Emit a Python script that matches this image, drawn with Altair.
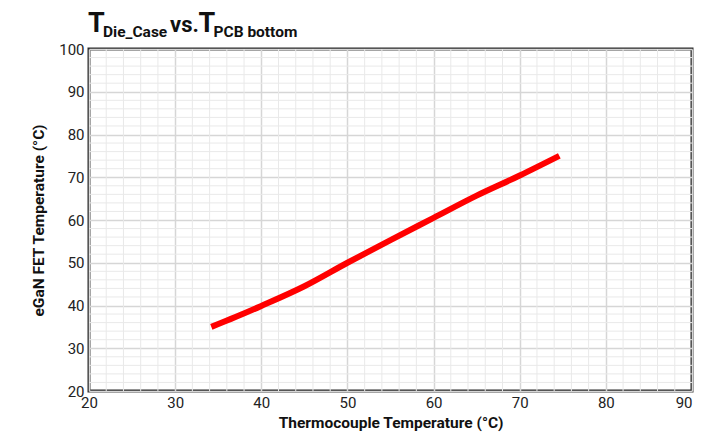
import altair as alt
import pandas as pd

# data
thermo = [34.2, 37.0, 40.0, 45.0, 50.0, 55.0, 60.0, 65.0, 70.0, 74.6]
egan = [35.0, 37.3, 39.9, 44.5, 50.0, 55.3, 60.5, 65.7, 70.4, 75.0]

x_ticks = [20, 30, 40, 50, 60, 70, 80, 90]
y_ticks = [20, 30, 40, 50, 60, 70, 80, 90, 100]
x_minor = [v for v in range(22, 90, 2) if v % 10]
y_minor = [v for v in range(22, 100, 2) if v % 10]

FONT = "Roboto, sans-serif"
W, H = 603, 342

line_df = pd.DataFrame({"x": thermo, "y": egan})
xs = alt.Scale(domain=[20, 90], nice=False, zero=False)
ys = alt.Scale(domain=[20, 100], nice=False, zero=False)

minor_x = alt.Chart(pd.DataFrame({"v": x_minor})).mark_rule(
    color="#e9e9e9", strokeWidth=1
).encode(x=alt.X("v:Q", scale=xs))
minor_y = alt.Chart(pd.DataFrame({"v": y_minor})).mark_rule(
    color="#e9e9e9", strokeWidth=1
).encode(y=alt.Y("v:Q", scale=ys))

line = alt.Chart(line_df).mark_line(
    color="#ff0000", strokeWidth=6, interpolate="monotone", strokeCap="butt"
).encode(
    x=alt.X("x:Q", scale=xs, title="Thermocouple Temperature (°C)",
            axis=alt.Axis(values=x_ticks, grid=True, gridColor="#d6d6d6", gridWidth=1.5,
                          domain=False, ticks=False, labelPadding=4, labelFontSize=15,
                          labelFont=FONT, labelColor="#222", titleFont=FONT,
                          titleFontSize=15.5, titleFontWeight="bold", titleColor="#111",
                          titlePadding=5, labelFlush=False,
                          labelAlign=alt.ExprRef(expr="datum.value == 90 ? 'right' : 'center'"))),
    y=alt.Y("y:Q", scale=ys, title="eGaN FET Temperature (°C)",
            axis=alt.Axis(values=y_ticks, grid=True, gridColor="#d6d6d6", gridWidth=1.5,
                          domain=False, ticks=False, labelPadding=5, labelFontSize=15,
                          labelFont=FONT, labelColor="#222", titleFont=FONT,
                          titleFontSize=15.5, titleFontWeight="bold", titleColor="#111",
                          titlePadding=12, labelFlush=False)),
)

one = pd.DataFrame({"a": [0]})


def txt(s, x, y, size):
    return alt.Chart(one).mark_text(
        text=s, font=FONT, fontWeight="bold", fontSize=size, align="left",
        baseline="alphabetic", color="#111"
    ).encode(x=alt.value(x), y=alt.value(y))


title = [
    txt("T", -1, -17, 27),
    txt("Die_Case", 14, -12, 15.5),
    txt("vs.", 81, -17, 22),
    txt("T", 109.5, -17, 27),
    txt("PCB bottom", 124.5, -12, 15.5),
]

chart = alt.layer(minor_x, minor_y, line, *title).properties(
    width=W, height=H,
    autosize=alt.AutoSizeParams(type="none"),
    padding={"left": 81, "top": 41, "right": 2, "bottom": 42},
).configure_view(stroke="#2a2a2a", strokeWidth=3)

chart.save("out.html", embed_options={"renderer": "svg", "actions": False})
